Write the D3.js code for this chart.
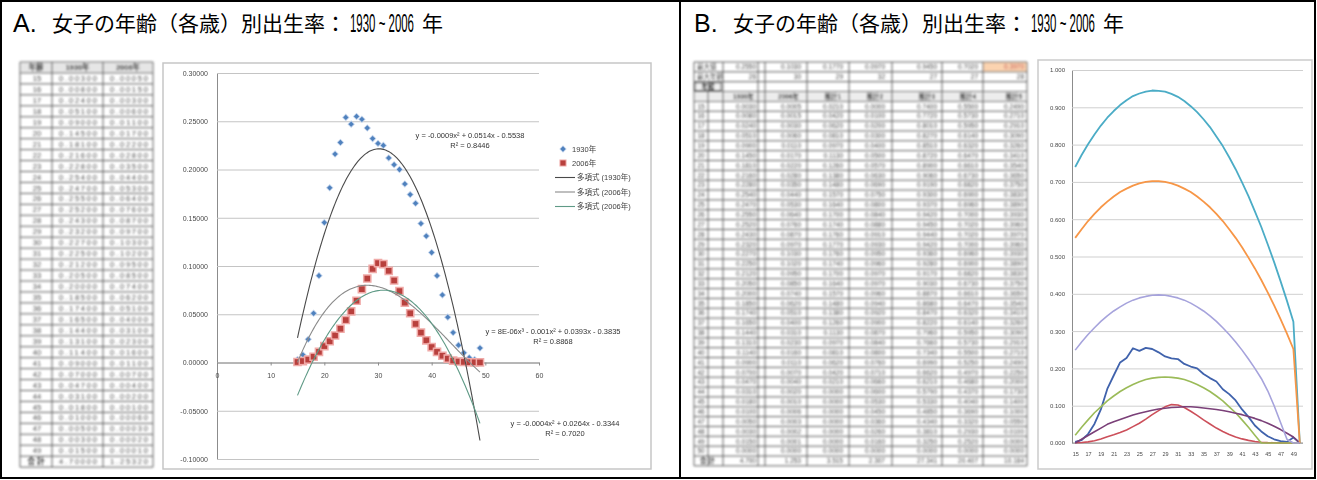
<!DOCTYPE html>
<html>
<head>
<meta charset="utf-8">
<script src="https://cdn.jsdelivr.net/npm/d3@7/dist/d3.min.js"></script>
<style>
  html, body { margin: 0; padding: 0; background: #fff; }
  svg { display: block; }
</style>
</head>
<body>
<svg id="fig" width="1317" height="480"></svg>
<script>
// ---- Age-specific fertility rates, single years of age 15–49 ----
const ages = [15,16,17,18,19,20,21,22,23,24,25,26,27,28,29,30,31,32,33,34,35,36,37,38,39,40,41,42,43,44,45,46,47,48,49];
const rate1930 = [0.003,0.008,0.024,0.051,0.090,0.145,0.181,0.216,0.228,0.254,0.247,0.255,0.252,0.243,0.232,0.227,0.225,0.212,0.205,0.200,0.185,0.174,0.165,0.144,0.131,0.114,0.090,0.070,0.047,0.031,0.018,0.010,0.005,0.003,0.015];
const rate2006 = [0.0005,0.0015,0.003,0.006,0.011,0.017,0.022,0.028,0.035,0.044,0.053,0.064,0.076,0.087,0.097,0.103,0.102,0.095,0.085,0.074,0.062,0.051,0.040,0.031,0.023,0.016,0.011,0.007,0.004,0.002,0.001,0.0006,0.0003,0.0002,0.0001];

// ---- Polynomial trendlines (highest power first) and their R² ----
const trend1930Quad  = [-0.000852, 0.0514, -0.5538];
const trend2006Cubic = [0.0000079, -0.0010336, 0.039301, -0.3835];
const trend2006Quad  = [-0.000426, 0.02641, -0.3344];
const r2Trend = [0.8446, 0.8868, 0.7020];
const trendNames = ["多項式 (1930年)", "多項式 (2006年)", "多項式 (2006年)"];
const seriesNames = ["1930年", "2006年"];

// ---- Panel B worksheet: ages 15–50 (row 50 is empty) ----
const agesB = [15,16,17,18,19,20,21,22,23,24,25,26,27,28,29,30,31,32,33,34,35,36,37,38,39,40,41,42,43,44,45,46,47,48,49,50];
const b1930 = rate1930.concat([0]);
const b2006 = rate2006.concat([0]);
const colGreen    = [0.021,0.042,0.062,0.081,0.097,0.113,0.126,0.138,0.148,0.157,0.164,0.170,0.174,0.176,0.177,0.176,0.174,0.170,0.164,0.157,0.148,0.138,0.126,0.113,0.097,0.081,0.062,0.042,0.021,0,0,0,0,0,0,0];
const colPurple   = [0.000,0.010,0.020,0.030,0.040,0.050,0.057,0.063,0.069,0.075,0.080,0.084,0.088,0.091,0.093,0.095,0.096,0.097,0.097,0.096,0.094,0.092,0.090,0.087,0.084,0.080,0.076,0.071,0.066,0.060,0.053,0.045,0.036,0.026,0.016,0];
const colTeal     = [0.740,0.772,0.801,0.827,0.851,0.872,0.890,0.906,0.919,0.930,0.937,0.942,0.945,0.944,0.942,0.936,0.928,0.917,0.903,0.887,0.868,0.847,0.822,0.796,0.766,0.734,0.699,0.662,0.621,0.579,0.533,0.485,0.434,0.381,0.325,0];
const colOrange   = [0.550,0.573,0.595,0.614,0.632,0.647,0.661,0.673,0.682,0.690,0.696,0.700,0.702,0.702,0.700,0.696,0.690,0.682,0.673,0.661,0.647,0.632,0.614,0.595,0.573,0.550,0.525,0.497,0.468,0.437,0.404,0.369,0.332,0.293,0.252,0];
const colLavender = [0.249,0.271,0.291,0.309,0.326,0.341,0.354,0.365,0.375,0.383,0.389,0.393,0.396,0.397,0.396,0.393,0.389,0.383,0.375,0.365,0.354,0.341,0.326,0.309,0.291,0.271,0.249,0.225,0.200,0.173,0.140,0.100,0.055,0.010,0,0];
const headersB = ["1930年","2006年","推計1","推計2","推計3","推計4","推計5"];

// ---- Axis ticks ----
const yTicksA = [-0.1,-0.05,0,0.05,0.1,0.15,0.2,0.25,0.3];
const xTicksA = [0,10,20,30,40,50,60];
const yTicksB = [0,0.1,0.2,0.3,0.4,0.5,0.6,0.7,0.8,0.9,1.0];

const LATIN  = "'Liberation Sans', 'Noto Sans CJK JP', sans-serif";
const CJK    = "'Noto Sans CJK JP', sans-serif";
const NARROW = "'Liberation Sans Narrow', 'Liberation Sans', sans-serif";

const svg = d3.select("#fig");
const defs = svg.append("defs");
function addBlur(id, sd) {
  defs.append("filter").attr("id", id).attr("filterUnits", "userSpaceOnUse")
    .attr("x", 0).attr("y", 0).attr("width", 1317).attr("height", 480)
    .append("feGaussianBlur").attr("stdDeviation", sd);
}
addBlur("chartSoft", 0.6);
addBlur("sheetSoft", 0.85);

// ---- Outer frame: two cells ----
svg.append("rect").attr("x", 1).attr("y", 1).attr("width", 1314).attr("height", 477)
  .attr("fill", "none").attr("stroke", "#000").attr("stroke-width", 2);
svg.append("line").attr("x1", 680).attr("x2", 680).attr("y1", 1).attr("y2", 478)
  .attr("stroke", "#000").attr("stroke-width", 2);

// ---- Titles ----
function drawTitle(x0, letter) {
  const g = svg.append("g").attr("fill", "#000");
  g.append("text").attr("x", x0).attr("y", 32).attr("font-family", NARROW).attr("font-size", 25).text(letter + ".");
  g.append("text").attr("x", x0 + 39).attr("y", 31).attr("font-family", CJK).attr("font-size", 21).text("女子の年齢（各歳）別出生率：");
  // condensed year span: squeeze the natural width into the space before 年
  const yrs = g.append("text").attr("font-family", NARROW).attr("font-size", 25).text("1930 ~ 2006");
  const natural = yrs.node().getComputedTextLength();
  yrs.attr("transform", `translate(${x0 + 337},32) scale(${64 / natural},1)`);
  g.append("text").attr("x", x0 + 409).attr("y", 31).attr("font-family", CJK).attr("font-size", 21).text("年");
}
drawTitle(13, "A");
drawTitle(694, "B");

// ---- Polynomial helpers ----
const poly = (c, x) => c.reduce((acc, k) => acc * x + k, 0);
function fmtCoef(v) {
  const a = Math.abs(v);
  if (a < 0.0001) {
    const [m, e] = a.toExponential(0).split("e");
    const ex = +e;
    return m + "E" + (ex < 0 ? "-" : "+") + String(Math.abs(ex)).padStart(2, "0");
  }
  return String(+a.toFixed(4));
}
function equation(c) {
  const n = c.length - 1, sup = ["", "", "²", "³"];
  let s = "y = ";
  c.forEach((k, i) => {
    const p = n - i;
    const term = fmtCoef(k) + (p > 0 ? "x" + sup[p] : "");
    s += i === 0 ? (k < 0 ? "-" : "") + term : (k < 0 ? " - " : " + ") + term;
  });
  return s;
}

// =================== Worksheet A ===================
const sheetA = svg.append("g").attr("filter", "url(#sheetSoft)").attr("font-family", LATIN);
const colA = [20, 52, 103, 153];
const topA = 62, rowA = 10.95, rowsA = ages.length + 2;
const gridCol = "#5e5e5e", cellText = "#4a4a4a";
sheetA.append("rect").attr("x", colA[0]).attr("y", topA).attr("width", colA[3] - colA[0]).attr("height", rowA).attr("fill", "#e6e6e6");
sheetA.selectAll("line.h").data(d3.range(rowsA + 1)).join("line")
  .attr("x1", colA[0]).attr("x2", colA[3]).attr("y1", i => topA + i * rowA).attr("y2", i => topA + i * rowA)
  .attr("stroke", gridCol).attr("stroke-width", 1);
sheetA.selectAll("line.v").data(colA).join("line")
  .attr("x1", d => d).attr("x2", d => d).attr("y1", topA).attr("y2", topA + rowsA * rowA)
  .attr("stroke", gridCol).attr("stroke-width", 1);
const rowYA = i => topA + i * rowA + rowA / 2 + 2.6;
["年齢", "1930年", "2006年"].forEach((h, j) => {
  sheetA.append("text").attr("x", (colA[j] + colA[j + 1]) / 2).attr("y", rowYA(0)).attr("text-anchor", "middle")
    .attr("font-size", 7.5).attr("font-weight", "bold").attr("fill", "#333").text(h);
});
ages.forEach((a, i) => {
  sheetA.append("text").attr("x", 37).attr("y", rowYA(i + 1)).attr("text-anchor", "middle").attr("font-size", 7.5).attr("fill", cellText).text(a);
  sheetA.append("text").attr("x", colA[1] + 7).attr("y", rowYA(i + 1)).attr("font-size", 7.5).attr("fill", cellText)
    .attr("textLength", 38).attr("lengthAdjust", "spacing").text(rate1930[i].toFixed(5));
  sheetA.append("text").attr("x", colA[2] + 7).attr("y", rowYA(i + 1)).attr("font-size", 7.5).attr("fill", cellText)
    .attr("textLength", 38).attr("lengthAdjust", "spacing").text(rate2006[i].toFixed(5));
});
sheetA.append("text").attr("x", 36).attr("y", rowYA(rowsA - 1)).attr("text-anchor", "middle").attr("font-size", 7.5).attr("font-weight", "bold").attr("fill", "#333").text("合 計");
sheetA.append("text").attr("x", colA[1] + 7).attr("y", rowYA(rowsA - 1)).attr("font-size", 7.5).attr("fill", cellText)
  .attr("textLength", 38).attr("lengthAdjust", "spacing").text(d3.sum(rate1930).toFixed(5));
sheetA.append("text").attr("x", colA[2] + 7).attr("y", rowYA(rowsA - 1)).attr("font-size", 7.5).attr("fill", cellText)
  .attr("textLength", 38).attr("lengthAdjust", "spacing").text(d3.sum(rate2006).toFixed(5));

// =================== Chart A: scatter with polynomial trendlines ===================
const xA = d3.scaleLinear([0, 60], [217, 539]);
const yA = d3.scaleLinear([-0.1, 0.3], [459, 73]);
const gA = svg.append("g").attr("filter", "url(#chartSoft)").attr("font-family", LATIN);
gA.append("rect").attr("x", 163).attr("y", 63).attr("width", 488).attr("height", 406)
  .attr("fill", "#fff").attr("stroke", "#c6c6c6").attr("stroke-width", 1.5);

gA.append("g").attr("transform", `translate(${xA(0)},0)`)
  .call(d3.axisLeft(yA).tickValues(yTicksA).tickFormat(d => d.toFixed(5)).tickSize(-(xA(60) - xA(0))).tickPadding(9))
  .call(g => g.select(".domain").attr("stroke", "#8c8c8c"))
  .call(g => g.selectAll(".tick line").attr("stroke", "#c4c4c4"))
  .call(g => g.selectAll(".tick text").attr("font-family", LATIN).attr("font-size", 7).attr("fill", "#4a4a4a"));

gA.append("g").attr("transform", `translate(0,${yA(0)})`)
  .call(d3.axisBottom(xA).tickValues(xTicksA).tickSize(3).tickSizeOuter(0).tickPadding(8))
  .call(g => g.select(".domain").attr("stroke", "#8c8c8c"))
  .call(g => g.selectAll(".tick line").attr("stroke", "#8c8c8c"))
  .call(g => g.selectAll(".tick text").attr("font-family", LATIN).attr("font-size", 7).attr("fill", "#4a4a4a"));

// markers: 1930 diamonds, 2006 squares
gA.append("g").selectAll("path").data(ages).join("path")
  .attr("transform", (d, i) => `translate(${xA(d)},${yA(rate1930[i])}) rotate(45)`)
  .attr("d", d3.symbol(d3.symbolSquare, 14))
  .attr("fill", "#4f81bd").attr("stroke", "#c3d4ec").attr("stroke-width", 1.6).attr("paint-order", "stroke");
gA.append("g").selectAll("path").data(ages).join("path")
  .attr("transform", (d, i) => `translate(${xA(d)},${yA(rate2006[i])})`)
  .attr("d", d3.symbol(d3.symbolSquare, 32))
  .attr("fill", "#b8403d").attr("stroke", "#f0aaa8").attr("stroke-width", 3).attr("paint-order", "stroke");

// trendlines, evaluated from the coefficients shown in the labels
const trendsA = [
  { coef: trend1930Quad,  color: "#4a4a4a" },
  { coef: trend2006Cubic, color: "#8a8a8a" },
  { coef: trend2006Quad,  color: "#5f9a86" }
];
const sampleX = d3.range(ages[0], ages[ages.length - 1] + 0.001, 0.25);
const trendLine = d3.line().x(d => xA(d[0])).y(d => yA(d[1]));
trendsA.forEach(t => {
  gA.append("path").datum(sampleX.map(x => [x, poly(t.coef, x)]))
    .attr("d", trendLine).attr("fill", "none").attr("stroke", t.color).attr("stroke-width", 1.1);
});

// equation labels
const eqPos = [{ x: 470, y: 138 }, { x: 553, y: 334 }, { x: 565, y: 426 }];
trendsA.forEach((t, k) => {
  const p = eqPos[k];
  gA.append("text").attr("x", p.x).attr("y", p.y).attr("text-anchor", "middle").attr("font-size", 7.5).attr("fill", "#333").text(equation(t.coef));
  gA.append("text").attr("x", p.x).attr("y", p.y + 10).attr("text-anchor", "middle").attr("font-size", 7.5).attr("fill", "#333").text("R² = " + r2Trend[k].toFixed(4));
});

// legend
const legA = gA.append("g").attr("font-size", 7.5).attr("fill", "#404040");
legA.append("path").attr("transform", "translate(563,149) rotate(45)").attr("d", d3.symbol(d3.symbolSquare, 14)())
  .attr("fill", "#4f81bd").attr("stroke", "#c3d4ec").attr("stroke-width", 1.5).attr("paint-order", "stroke");
legA.append("text").attr("x", 572).attr("y", 151.5).text(seriesNames[0]);
legA.append("path").attr("transform", "translate(563,163)").attr("d", d3.symbol(d3.symbolSquare, 26)())
  .attr("fill", "#b8403d").attr("stroke", "#f0aaa8").attr("stroke-width", 2).attr("paint-order", "stroke");
legA.append("text").attr("x", 572).attr("y", 165.5).text(seriesNames[1]);
trendNames.forEach((nm, k) => {
  const y = 177.5 + k * 14.5;
  legA.append("line").attr("x1", 555).attr("x2", 575).attr("y1", y).attr("y2", y).attr("stroke", trendsA[k].color).attr("stroke-width", 1.1);
  legA.append("text").attr("x", 577).attr("y", y + 2.5).text(nm);
});

// =================== Worksheet B ===================
const sheetB = svg.append("g").attr("filter", "url(#sheetSoft)").attr("font-family", LATIN);
const edgesB = [694, 708, 723, 758, 765, 807, 849, 892, 942, 983, 1027];
const valueRightB = [756, 801, 843, 885, 937, 978, 1024];
const topB = 62, rowB = 9.85, paramRows = 3, rowsB = paramRows + 1 + agesB.length + 1;
const columnsB = [b1930, b2006, colGreen, colPurple, colTeal, colOrange, colLavender];
const rowYB = i => topB + i * rowB + rowB / 2 + 2.3;

sheetB.append("rect").attr("x", 983).attr("y", topB).attr("width", 44).attr("height", rowB).attr("fill", "#fbd3b0");
sheetB.append("rect").attr("x", 694).attr("y", topB + 3 * rowB).attr("width", 333).attr("height", rowB).attr("fill", "#ededed");
sheetB.selectAll("line.h").data(d3.range(rowsB + 1)).join("line")
  .attr("x1", 694).attr("x2", 1027).attr("y1", i => topB + i * rowB).attr("y2", i => topB + i * rowB)
  .attr("stroke", gridCol).attr("stroke-width", 1);
sheetB.selectAll("line.v").data(edgesB).join("line")
  .attr("x1", d => d).attr("x2", d => d).attr("y1", d => (d === 708 ? topB + paramRows * rowB : topB)).attr("y2", topB + rowsB * rowB)
  .attr("stroke", gridCol).attr("stroke-width", 1);
// box around the age label
sheetB.append("rect").attr("x", 695).attr("y", topB + 2 * rowB + 1).attr("width", 26).attr("height", rowB - 2)
  .attr("fill", "#f0f0f0").attr("stroke", "#333");

sheetB.append("text").attr("x", 697).attr("y", rowYB(0)).attr("font-size", 6.5).attr("fill", cellText).text("最大値");
sheetB.append("text").attr("x", 697).attr("y", rowYB(1)).attr("font-size", 6.5).attr("fill", cellText).text("最大年齢");
sheetB.append("text").attr("x", 708).attr("y", rowYB(2)).attr("text-anchor", "middle").attr("font-size", 6.5).attr("font-weight", "bold").attr("fill", "#222").text("年齢");
columnsB.forEach((col, j) => {
  const mx = d3.max(col), at = agesB[d3.maxIndex(col)];
  sheetB.append("text").attr("x", valueRightB[j]).attr("y", rowYB(0)).attr("text-anchor", "end").attr("font-size", 6.5)
    .attr("fill", j === 6 ? "#c0504d" : cellText).text(mx.toFixed(4));
  sheetB.append("text").attr("x", valueRightB[j]).attr("y", rowYB(1)).attr("text-anchor", "end").attr("font-size", 6.5).attr("fill", cellText).text(at);
  sheetB.append("text").attr("x", valueRightB[j] - 2).attr("y", rowYB(3)).attr("text-anchor", "end").attr("font-size", 6.5).attr("font-weight", "bold").attr("fill", "#333").text(headersB[j]);
  col.forEach((v, i) => {
    sheetB.append("text").attr("x", valueRightB[j]).attr("y", rowYB(4 + i)).attr("text-anchor", "end").attr("font-size", 6.5).attr("fill", cellText).text(v.toFixed(4));
  });
  sheetB.append("text").attr("x", valueRightB[j]).attr("y", rowYB(rowsB - 1)).attr("text-anchor", "end").attr("font-size", 6.5).attr("fill", cellText).text(d3.sum(col).toFixed(3));
});
agesB.forEach((a, i) => {
  sheetB.append("text").attr("x", 701).attr("y", rowYB(4 + i)).attr("text-anchor", "middle").attr("font-size", 6.5).attr("fill", cellText).text(a);
});
sheetB.append("text").attr("x", 700).attr("y", rowYB(rowsB - 1)).attr("font-size", 6.5).attr("font-weight", "bold").attr("fill", "#333").text("合 計");

// =================== Chart B: line chart by age ===================
const xB = d3.scalePoint().domain(agesB).range([1075.2, 1299.8]);
const yB = d3.scaleLinear([0, 1], [443, 70]);
const gB = svg.append("g").attr("filter", "url(#chartSoft)").attr("font-family", LATIN);
gB.append("rect").attr("x", 1038).attr("y", 60).attr("width", 274).attr("height", 409)
  .attr("fill", "#fff").attr("stroke", "#cbcbcb").attr("stroke-width", 1.5);

gB.append("g").attr("transform", "translate(1072,0)")
  .call(d3.axisLeft(yB).tickValues(yTicksB).tickFormat(d => d.toFixed(3)).tickSize(-231).tickPadding(7))
  .call(g => g.select(".domain").attr("stroke", "#8c8c8c"))
  .call(g => g.selectAll(".tick line").attr("stroke", "#cfcfcf"))
  .call(g => g.selectAll(".tick text").attr("font-family", LATIN).attr("font-size", 6).attr("fill", "#4a4a4a"));
gB.append("line").attr("x1", 1072).attr("x2", 1303).attr("y1", yB(0)).attr("y2", yB(0)).attr("stroke", "#8c8c8c");
gB.append("g").attr("transform", `translate(0,${yB(0)})`)
  .call(d3.axisBottom(xB).tickValues(agesB.filter((d, i) => i % 2 === 0)).tickSize(0).tickPadding(9))
  .call(g => g.select(".domain").remove())
  .call(g => g.selectAll(".tick text").attr("font-family", LATIN).attr("font-size", 5.5).attr("fill", "#4a4a4a"));

const seriesB = [
  { values: b1930,       color: "#3f62ac", width: 1.8 },
  { values: b2006,       color: "#cc4f5a", width: 1.6 },
  { values: colGreen,    color: "#9bbb59", width: 1.6 },
  { values: colPurple,   color: "#7a3f78", width: 1.6 },
  { values: colTeal,     color: "#4bacc6", width: 1.8 },
  { values: colOrange,   color: "#f79646", width: 1.8 },
  { values: colLavender, color: "#a6a3dc", width: 1.6 }
];
const lineB = d3.line().x((d, i) => xB(agesB[i])).y(d => yB(d));
seriesB.forEach(s => {
  gB.append("path").datum(s.values).attr("d", lineB).attr("fill", "none")
    .attr("stroke", s.color).attr("stroke-width", s.width).attr("stroke-linejoin", "round");
});
</script>
</body>
</html>
